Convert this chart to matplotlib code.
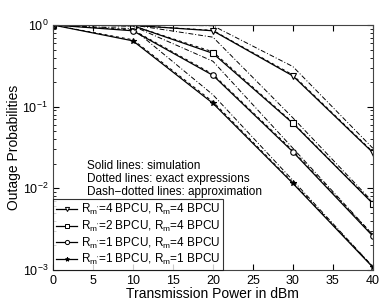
import matplotlib
matplotlib.use("Agg")
import matplotlib.pyplot as plt
from matplotlib.lines import Line2D

plt.rcParams['font.family'] = ['Liberation Sans', 'DejaVu Sans']
plt.rcParams['mathtext.default'] = 'regular'

power = [0, 10, 20, 30, 40]

# simulation (solid, with markers)
sim_44 = [1.0, 0.99, 0.85, 0.238, 0.0274]
sim_24 = [1.0, 0.98, 0.45, 0.0626, 0.0065]
sim_14 = [1.0, 0.85, 0.242, 0.028, 0.0026]
sim_11 = [1.0, 0.64, 0.11, 0.0115, 0.00108]

# exact expressions (dotted)
exact_44 = [1.0, 0.99, 0.86, 0.245, 0.028]
exact_24 = [1.0, 0.98, 0.47, 0.064, 0.0066]
exact_14 = [1.0, 0.87, 0.25, 0.029, 0.0027]
exact_11 = [1.0, 0.66, 0.115, 0.0118, 0.0011]

# approximation (dash-dotted)
approx_44 = [1.0, 1.0, 0.98, 0.31, 0.031]
approx_24 = [1.0, 1.0, 0.71, 0.073, 0.0068]
approx_14 = [1.0, 0.97, 0.36, 0.031, 0.0027]
approx_11 = [1.0, 0.9, 0.14, 0.0125, 0.0011]

labels = [r"R$_{m'}$=4 BPCU, R$_m$=4 BPCU",
          r"R$_{m'}$=2 BPCU, R$_m$=4 BPCU",
          r"R$_{m'}$=1 BPCU, R$_m$=4 BPCU",
          r"R$_{m'}$=1 BPCU, R$_m$=1 BPCU"]
markers = ['v', 's', 'o', '*']
sims = [sim_44, sim_24, sim_14, sim_11]
exacts = [exact_44, exact_24, exact_14, exact_11]
approxs = [approx_44, approx_24, approx_14, approx_11]

fig = plt.figure(figsize=(3.82, 3.08), dpi=100)
ax = fig.add_axes([0.1387, 0.1234, 0.8373, 0.7954])

handles = []
for sim, ex, ap, m, lab in zip(sims, exacts, approxs, markers, labels):
    ax.plot(power, ap, color='black', linestyle=(0, (5, 2, 1, 2)), linewidth=0.7)
    ax.plot(power, ex, color='black', linestyle=(0, (3, 3)), linewidth=0.7)
    mfc = 'black' if m == '*' else 'white'
    ax.plot(power, sim, color='black', linestyle='-', linewidth=0.9,
            marker=m, markersize=4, markerfacecolor=mfc, markeredgecolor='black',
            markeredgewidth=0.8)
    handles.append(Line2D([], [], color='black', linewidth=0.9, marker=m,
                          markersize=3, markerfacecolor=mfc,
                          markeredgecolor='black', markeredgewidth=0.7))

ax.set_yscale('log')
ax.set_xlim(0, 40)
ax.set_ylim(1e-3, 1)
ax.set_xticks(range(0, 41, 5))
ax.tick_params(which='both', direction='in', top=True, right=True, labelsize=9)
ax.tick_params(which='major', length=4)
ax.tick_params(which='minor', length=2)
for s in ax.spines.values():
    s.set_color('#444444')

ax.set_xlabel('Transmission Power in dBm', fontsize=10, labelpad=0)
ax.set_ylabel('Outage Probabilities', fontsize=10, labelpad=1)

ax.text(0.105, 0.425, 'Solid lines: simulation', transform=ax.transAxes, fontsize=8.5, va='center')
ax.text(0.105, 0.372, 'Dotted lines: exact expressions', transform=ax.transAxes, fontsize=8.5, va='center')
ax.text(0.105, 0.319, 'Dash\u2212dotted lines: approximation', transform=ax.transAxes, fontsize=8.5, va='center')

leg = ax.legend(handles, labels, loc='lower left', fontsize=8.5, frameon=True,
                fancybox=False, borderaxespad=0, handlelength=1.8, handletextpad=0.3,
                labelspacing=0.12, borderpad=0.25)
leg.get_frame().set_edgecolor('black')
leg.get_frame().set_linewidth(0.8)

fig.savefig('out.png', dpi=100)
